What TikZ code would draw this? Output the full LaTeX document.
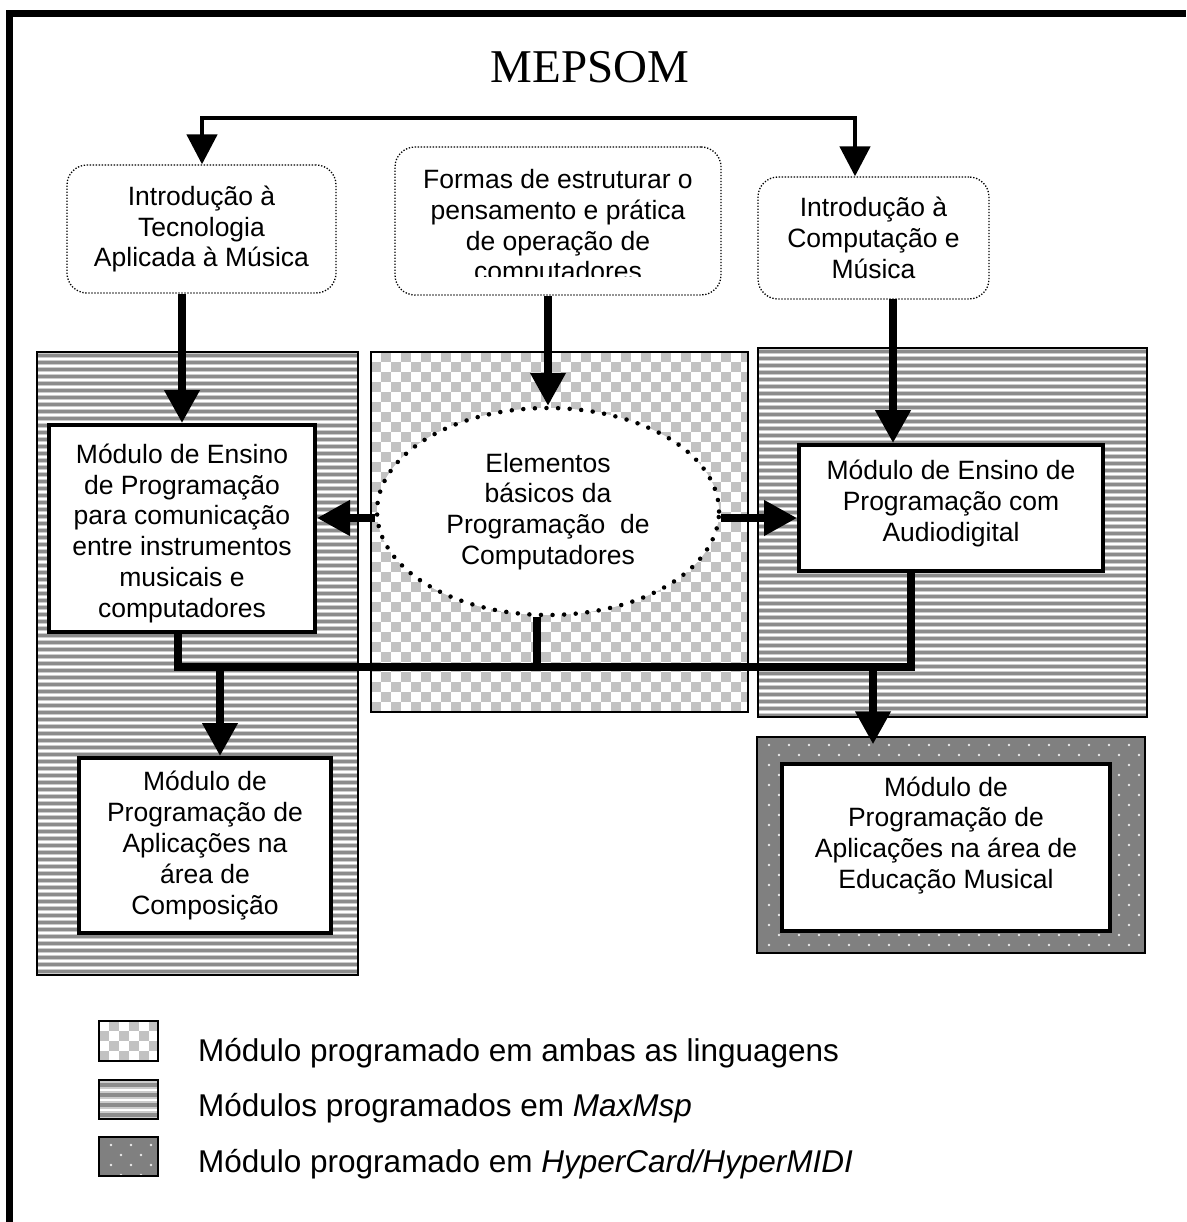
\documentclass[tikz,border=0pt]{standalone}
\usepackage{fontspec}
\setmainfont{Liberation Sans}
\newfontfamily\titlefont{Liberation Serif}
\usetikzlibrary{arrows.meta,shapes.geometric}

\definecolor{stripeDark}{gray}{0.55}
\definecolor{stripeLight}{gray}{0.80}
\definecolor{checkGray}{gray}{0.76}
\definecolor{dotGround}{gray}{0.50}
\definecolor{dotSpeck}{gray}{0.92}

% horizontal stripes: x1 y1 x2 y2 period
\newcommand\stripearea[5]{%
  \begin{scope}
    \clip (#1,#2) rectangle (#3,#4);
    \fill[white] (#1,#2) rectangle (#3,#4);
    \pgfmathtruncatemacro\stripeN{(#4-#2)/#5}
    \pgfmathsetmacro\stripeWa{0.75*#5}
    \pgfmathsetmacro\stripeWb{0.40*#5}
    \foreach \k in {0,...,\stripeN}{
      \pgfmathsetmacro\yy{#2+(\k+0.5)*#5}
      \draw[stripeLight, line width=\stripeWa pt] (#1,\yy) -- (#3,\yy);
      \draw[stripeDark, line width=\stripeWb pt] (#1,\yy) -- (#3,\yy);
    }
  \end{scope}}

% checkerboard: x1 y1 x2 y2 cell
\newcommand\checkerarea[5]{%
  \begin{scope}
    \clip (#1,#2) rectangle (#3,#4);
    \fill[white] (#1,#2) rectangle (#3,#4);
    \pgfmathtruncatemacro\checkNx{(#3-#1)/#5}
    \pgfmathtruncatemacro\checkNy{(#4-#2)/#5}
    \foreach \i in {0,...,\checkNx}{
      \foreach \j in {0,...,\checkNy}{
        \pgfmathtruncatemacro\checkOdd{mod(\i+\j,2)}
        \ifnum\checkOdd=1
          \fill[checkGray] (#1+\i*#5,#2+\j*#5) rectangle ++(#5,#5);
        \fi
      }
    }
  \end{scope}}

% grey ground with staggered light specks: x1 y1 x2 y2
\newcommand\dotarea[4]{%
  \begin{scope}
    \clip (#1,#2) rectangle (#3,#4);
    \fill[dotGround] (#1,#2) rectangle (#3,#4);
    \pgfmathtruncatemacro\dotNx{(#3-#1)/20}
    \pgfmathtruncatemacro\dotNy{(#4-#2)/10}
    \foreach \j in {0,...,\dotNy}{
      \pgfmathtruncatemacro\dotOdd{mod(\j,2)}
      \foreach \i in {0,...,\dotNx}{
        \fill[dotSpeck] (#1+12+\i*20+\dotOdd*10,#2+8+\j*10) circle (1.3);
      }
    }
  \end{scope}}

\tikzset{
  txt/.style={font=\fontsize{26.5}{30.8}\selectfont, align=center},
  dotbox/.style={draw, line width=1.3pt, dash pattern=on 1.3pt off 1.7pt,
    rounded corners=20pt, fill=white, txt, inner sep=0pt},
  modbox/.style={draw, line width=4pt, fill=white, txt, inner sep=0pt},
  area/.style={draw, line width=1.5pt, inner sep=0pt},
  swatch/.style={draw, line width=2pt, inner sep=0pt},
  bus/.style={line width=7.5pt, line join=miter},
  arrB/.style={line width=7.5pt, -{Triangle[width=34pt,length=33pt]}},
  arrT/.style={line width=4.7pt, line join=miter,
    {Triangle[width=30pt,length=30pt]}-{Triangle[width=30pt,length=30pt]}},
  frame/.style={line width=7pt, line join=miter},
  legtxt/.style={font=\fontsize{31.5}{36}\selectfont, anchor=base west, inner sep=0pt},
}

\begin{document}
\begin{tikzpicture}[x=1pt, y=-1pt]
  \useasboundingbox (0,0) rectangle (1186,1222);
  \fill[white] (0,0) rectangle (1186,1222);

  % page frame (top and left edges)
  \draw[frame] (9.5,1222) -- (9.5,13.5) -- (1186,13.5);

  \node[font=\titlefont\fontsize{47}{50}\selectfont, anchor=base, inner sep=0pt]
    (title) at (590,83) {MEPSOM};

  % shaded regions behind the modules
  \stripearea{37}{352}{358}{975}{7}
  \checkerarea{371}{352}{748}{712}{10}
  \stripearea{758}{348}{1147}{717}{7}
  \dotarea{757}{737}{1145}{953}
  \node[area, minimum width=321, minimum height=623] (bgL) at (197.5,663.5) {};
  \node[area, minimum width=377, minimum height=360] (bgM) at (559.5,532) {};
  \node[area, minimum width=389, minimum height=369] (bgR) at (952.5,532.5) {};
  \node[area, minimum width=388, minimum height=216] (bgE) at (951,845) {};

  % introductory topics
  \node[dotbox, minimum width=269, minimum height=128] (introL) at (201.5,229)
    {Introdução à\\Tecnologia\\Aplicada à Música};
  \node[dotbox, minimum width=326, minimum height=148] (forms) at (558,221) {};
  \begin{scope}
    % the last line runs past the lower edge of its box and is cut there
    \clip (395,150) rectangle (721,277);
    \node[txt, anchor=base, inner sep=0pt] (formsText) at (558,281)
      {Formas de estruturar o\\pensamento e prática\\de operação de\\computadores};
  \end{scope}
  \node[dotbox, minimum width=231, minimum height=122] (introR) at (873.5,238)
    {Introdução à\\Computação e\\Música};

  % modules
  \node[ellipse, draw, line width=4.5pt, dash pattern=on 0pt off 11.6pt,
    line cap=round, fill=white, txt, inner sep=0pt,
    minimum width=342, minimum height=207] (ell) at (548,511.5)
    {Elementos\\básicos da\\Programação~ de\\Computadores};
  \node[modbox, minimum width=266, minimum height=207] (modL) at (182,528.5)
    {\rule{0pt}{29pt}Módulo de Ensino\\de Programação\\para comunicação\\entre instrumentos\\musicais e\\computadores};
  \node[modbox, minimum width=304, minimum height=126] (modR) at (951,508)
    {Módulo de Ensino de\\Programação com\\Audiodigital\rule[-14pt]{0pt}{0pt}};
  \node[modbox, minimum width=252, minimum height=175] (compL) at (205,845.5)
    {Módulo de\\Programação de\\Aplicações na\\área de\\Composição};
  \node[modbox, minimum width=328, minimum height=167] (eduBox) at (946,847.5)
    {Módulo de\\Programação de\\Aplicações na área de\\Educação Musical\rule[-30pt]{0pt}{0pt}};

  % connectors
  \coordinate (busTL) at (202,118);
  \coordinate (busTR) at (855,118);
  \draw[arrT] (busTL |- introL.north) -- (busTL) -- (busTR) -- (busTR |- introR.north);

  \draw[arrB] (modL.north |- introL.south) -- (modL.north);
  \draw[arrB] (ell.north |- forms.south) -- (ell.north);
  \coordinate (rDrop) at (893,299);
  \draw[arrB] (rDrop) -- (rDrop |- modR.north);

  \coordinate (midRow) at (0,518);
  \draw[arrB] (ell.west |- midRow) -- (modL.east |- midRow);
  \draw[arrB] (ell.east |- midRow) -- (modR.west |- midRow);

  \coordinate (busL) at (178,667);
  \coordinate (busM) at (537,667);
  \coordinate (busR) at (911,667);
  \draw[bus] (modL.south -| busL) -- (busL) -- (busR) -- (modR.south -| busR);
  \draw[bus] (ell.south -| busM) -- (busM);

  \coordinate (dropL) at (220,667);
  \coordinate (dropR) at (873,667);
  \draw[arrB] (dropL) -- (dropL |- compL.north);
  \draw[arrB, shorten >=-8pt] (dropR) -- (dropR |- bgE.north);

  % legend
  \checkerarea{99}{1021}{158}{1061}{10}
  \stripearea{99}{1080}{158}{1119}{10}
  \dotarea{99}{1137}{158}{1176}
  \node[swatch, minimum width=59, minimum height=40] (sw1) at (128.5,1041) {};
  \node[swatch, minimum width=59, minimum height=39] (sw2) at (128.5,1099.5) {};
  \node[swatch, minimum width=59, minimum height=39] (sw3) at (128.5,1156.5) {};
  \node[legtxt] (lg1) at (198,1061) {Módulo programado em ambas as linguagens};
  \node[legtxt] (lg2) at (198,1116) {Módulos programados em \textit{MaxMsp}};
  \node[legtxt] (lg3) at (198,1172) {Módulo programado em \textit{HyperCard/HyperMIDI}};
\end{tikzpicture}
\end{document}
